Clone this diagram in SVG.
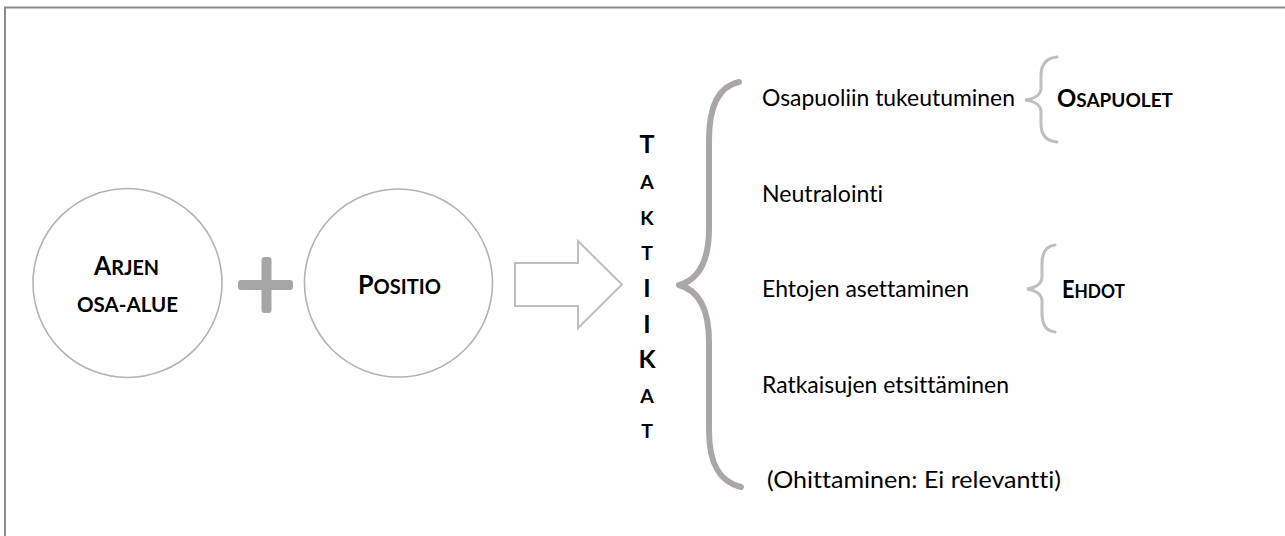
<svg xmlns="http://www.w3.org/2000/svg" width="1285" height="536" viewBox="0 0 1285 536">
  <style>
    .t { font-family: Lato, "Open Sans", "Liberation Sans", sans-serif; fill: #000; font-variant-ligatures: none; font-feature-settings: "liga" 0, "clig" 0; }
    .reg { font-size: 24px; font-weight: 400; }
    .b { font-weight: 700; }
    .circ { fill: #fff; stroke: #b3b3b3; stroke-width: 1.6; }
    .bigbrace { fill: none; stroke: #aba7a7; stroke-width: 6; stroke-linecap: round; stroke-linejoin: round; }
    .smallbrace { fill: none; stroke: #bfbfbf; stroke-width: 3; stroke-linecap: round; }
    .blockarrow { fill: #fff; stroke: #bfbfbf; stroke-width: 2; stroke-linejoin: miter; }
    .plus { fill: #a6a6a6; }
  </style>
  <rect x="0" y="0" width="1285" height="536" fill="#fff"/>
  <path d="M5 540 L5 7.5 L1290 7.5" fill="none" stroke="#8a8a8a" stroke-width="2"/>

  <g id="node-arjen">
    <circle class="circ" cx="127.5" cy="283" r="94.5"/>
    <text class="t b" x="94" y="275" textLength="65" lengthAdjust="spacingAndGlyphs"><tspan font-size="27">A</tspan><tspan font-size="21.6">RJEN</tspan></text>
    <text class="t b" x="77" y="312" font-size="21.6" textLength="101" lengthAdjust="spacingAndGlyphs">OSA-ALUE</text>
  </g>

  <g id="node-plus">
    <rect class="plus" x="238" y="280" width="55" height="10" rx="3"/>
    <rect class="plus" x="261.5" y="257" width="10" height="56" rx="3"/>
  </g>

  <g id="node-positio">
    <circle class="circ" cx="398.5" cy="283" r="94"/>
    <text class="t b" x="358" y="294" textLength="83" lengthAdjust="spacingAndGlyphs"><tspan font-size="27">P</tspan><tspan font-size="21.6">OSITIO</tspan></text>
  </g>

  <g id="node-taktiikat" class="t b" text-anchor="middle">
    <text x="647" y="153" font-size="25">T</text>
    <text x="647" y="189" font-size="19.5">A</text>
    <text x="647" y="225" font-size="19.5">K</text>
    <text x="647" y="260" font-size="19.5">T</text>
    <text x="647" y="297" font-size="25">I</text>
    <text x="647" y="333" font-size="25">I</text>
    <text x="647" y="368" font-size="25">K</text>
    <text x="647" y="403" font-size="19.5">A</text>
    <text x="647" y="438" font-size="19.5">T</text>
  </g>

  <g id="node-tactics">
    <text class="t reg" x="762" y="106" textLength="253" lengthAdjust="spacingAndGlyphs">Osapuoliin tukeutuminen</text>
    <text class="t reg" x="762" y="201.5" textLength="121" lengthAdjust="spacingAndGlyphs">Neutralointi</text>
    <text class="t reg" x="762" y="297" textLength="207" lengthAdjust="spacingAndGlyphs">Ehtojen asettaminen</text>
    <text class="t reg" x="762" y="392.5" textLength="247" lengthAdjust="spacingAndGlyphs">Ratkaisujen etsittäminen</text>
    <text class="t reg" x="767" y="488" textLength="294" lengthAdjust="spacingAndGlyphs">(Ohittaminen: Ei relevantti)</text>
  </g>

  <g id="node-osapuolet">
    <text class="t b" x="1057" y="107" textLength="116" lengthAdjust="spacingAndGlyphs"><tspan font-size="24.5">O</tspan><tspan font-size="19.5">SAPUOLET</tspan></text>
  </g>

  <g id="node-ehdot">
    <text class="t b" x="1062" y="298" textLength="63" lengthAdjust="spacingAndGlyphs"><tspan font-size="24.5">E</tspan><tspan font-size="19.5">HDOT</tspan></text>
  </g>

  <g id="connectors">
    <polygon class="blockarrow" points="515,263 578,263 578,241 622,284.5 578,328 578,306 515,306"/>
    <path class="bigbrace" d="M739 82 C720 86 709 105 709 140 L709 228 C709 262 698 280 679 285 C698 290 709 308 709 342 L709 430 C709 465 720 482 741 487"/>
    <path class="smallbrace" d="M1057 57 C1045 58 1041 66 1041 76 L1041 88 C1041 95 1034 99 1025 100 C1034 101 1041 105 1041 112 L1041 124 C1041 134 1045 141 1057 142"/>
    <path class="smallbrace" d="M1055 245 C1045 246 1042 254 1042 264 L1042 277 C1042 284 1035 288 1027 289 C1035 290 1042 294 1042 301 L1042 313 C1042 323 1045 331 1055 332"/>
  </g>
</svg>
